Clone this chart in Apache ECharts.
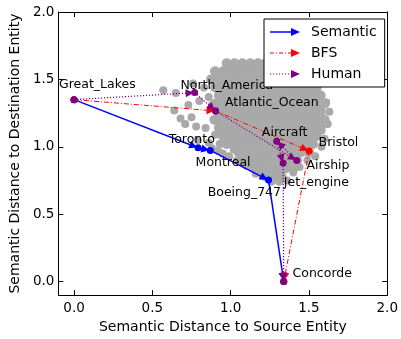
<!DOCTYPE html>
<html>
<head>
<meta charset="utf-8">
<script src="https://cdn.jsdelivr.net/npm/echarts@6/dist/echarts.min.js"></script>
<style>
  html, body { margin: 0; padding: 0; background: #fff; }
  #main { width: 401px; height: 339px; }
</style>
</head>
<body>
<div id="main"></div>
<script>
// entities (node positions)
var entityNames = ['Great_Lakes', 'North_America', 'Atlantic_Ocean', 'Toronto', 'Montreal', 'Aircraft',
                   'Bristol', 'Airship', 'Jet_engine', 'Boeing_747', 'Concorde'];
var entityX = [0.00, 0.770, 0.904, 0.792, 0.870, 1.294, 1.501, 1.422, 1.335, 1.242, 1.339];
var entityY = [1.35, 1.402, 1.266, 0.993, 0.973, 1.042, 0.969, 0.898, 0.879, 0.753, 0.000];
// where each name is written (left / middle of the text)
var labelX = [-0.096, 0.679, 0.963, 0.604, 0.776, 1.199, 1.561, 1.484, 1.339, 0.853, 1.395];
var labelY = [1.460, 1.453, 1.324, 1.050, 0.882, 1.101, 1.028, 0.860, 0.732, 0.662, 0.057];

// paths
var semanticPath = ['Great_Lakes', 'Toronto', 'Montreal', 'Boeing_747', 'Concorde'];
var bfsPath = ['Great_Lakes', 'Atlantic_Ocean', 'Bristol', 'Concorde'];
var humanPath = ['Great_Lakes', 'North_America', 'Atlantic_Ocean', 'Airship', 'Aircraft', 'Jet_engine', 'Concorde'];

// background cloud of entities, one row per y value (dense core)
var cloudRows = [
  [1.62, [0.975, 1.025, 1.075, 1.125, 1.175, 1.225, 1.275]],
  [1.56, [0.90, 0.95, 1.00, 1.05, 1.10, 1.15, 1.20, 1.25, 1.30, 1.35, 1.40]],
  [1.50, [0.875, 0.925, 0.975, 1.025, 1.075, 1.125, 1.175, 1.225, 1.275, 1.325, 1.375, 1.425, 1.475]],
  [1.44, [0.90, 0.95, 1.00, 1.05, 1.10, 1.15, 1.20, 1.25, 1.30, 1.35, 1.40, 1.45, 1.50, 1.55]],
  [1.38, [0.925, 0.975, 1.025, 1.075, 1.125, 1.175, 1.225, 1.275, 1.325, 1.375, 1.425, 1.475, 1.525, 1.575]],
  [1.32, [0.90, 0.95, 1.00, 1.05, 1.10, 1.15, 1.20, 1.25, 1.30, 1.35, 1.40, 1.45, 1.50, 1.55, 1.60]],
  [1.26, [0.925, 0.975, 1.025, 1.075, 1.125, 1.175, 1.225, 1.275, 1.325, 1.375, 1.425, 1.475, 1.525, 1.575]],
  [1.20, [0.90, 0.95, 1.00, 1.05, 1.10, 1.15, 1.20, 1.25, 1.30, 1.35, 1.40, 1.45, 1.50, 1.55, 1.60]],
  [1.14, [0.925, 0.975, 1.025, 1.075, 1.125, 1.175, 1.225, 1.275, 1.325, 1.375, 1.425, 1.475, 1.525, 1.575]],
  [1.08, [0.95, 1.00, 1.05, 1.10, 1.15, 1.20, 1.25, 1.30, 1.35, 1.40, 1.45, 1.50, 1.55]],
  [1.02, [0.975, 1.025, 1.075, 1.125, 1.175, 1.225, 1.275, 1.325, 1.375, 1.425, 1.475, 1.525]],
  [0.96, [1.05, 1.10, 1.15, 1.20, 1.25, 1.30, 1.35, 1.40, 1.45, 1.50]],
  [0.90, [1.075, 1.125, 1.175, 1.225, 1.275, 1.325, 1.375, 1.425]],
  [0.84, [1.15, 1.20, 1.25, 1.30, 1.35, 1.40]],
  [0.78, [1.225, 1.275, 1.325]]
];
// scattered entities round the edge of the cloud
var cloudSparse = [[0.57, 1.42], [0.65, 1.40], [0.64, 1.27], [0.73, 1.31], [0.80, 1.34], [0.68, 1.21],
  [0.75, 1.22], [0.78, 1.15], [0.84, 1.14], [0.71, 1.17], [0.76, 1.47], [0.79, 1.05],
  [0.86, 1.03], [0.88, 0.99], [0.92, 0.97], [0.95, 0.95], [0.83, 1.44], [0.86, 1.37],
  [0.88, 1.31], [0.89, 1.20], [0.90, 1.09], [0.93, 1.02], [0.99, 0.93], [1.04, 0.90],
  [1.10, 0.86], [1.16, 0.80], [1.40, 0.81], [1.44, 0.85], [1.49, 0.90], [1.54, 0.93],
  [1.58, 1.00], [1.60, 1.06], [1.62, 1.17], [1.63, 1.26], [1.61, 1.33], [1.26, 0.74],
  [1.31, 0.74], [1.36, 0.75], [0.95, 1.56], [0.94, 1.50], [1.55, 1.47], [1.02, 0.98],
  [1.58, 1.12], [1.20, 0.79]];

var ticks = [0, 0.5, 1.0, 1.5, 2.0];

var font = 'DejaVu Sans';
var colors = { Semantic: '#0000ff', BFS: '#ff0000', Human: '#800080' };

function pos(name) {
  var i = entityNames.indexOf(name);
  return [entityX[i], entityY[i]];
}

var cloud = [];
cloudRows.forEach(function (r) {
  r[1].forEach(function (x) { cloud.push([x, r[0]]); });
});

var labelData = entityNames.map(function (n, i) { return { name: n, value: [labelX[i], labelY[i]] }; });

// legend icons: line sample + arrow head, box 36 x 14
var box = 'M0,0h0.01v0.01h-0.01z M36,14h-0.01v-0.01h0.01z ';
var head = ' M21,3L30,7L21,11z';
var iconSemantic = 'path://' + box + 'M0,6.25h22v1.5h-22z' + head;
var iconBfs = 'path://' + box + 'M0,6.5h4v1h-4z M6,6.5h1v1h-1z M9,6.5h4v1h-4z M15,6.5h1v1h-1z M18,6.5h4v1h-4z' + head;
var iconHuman = 'path://' + box + 'M0,6.5h1.2v1h-1.2z M3,6.5h1.2v1h-1.2z M6,6.5h1.2v1h-1.2z M9,6.5h1.2v1h-1.2z M12,6.5h1.2v1h-1.2z M15,6.5h1.2v1h-1.2z M18,6.5h1.2v1h-1.2z' + head;

function axisX(pos, showLabel) {
  return {
    type: 'value', min: -0.1, max: 2.0, position: pos,
    axisLine: { show: true, onZero: false, lineStyle: { color: '#000', width: 1 } },
    axisTick: { show: true, inside: true, length: 5, customValues: ticks, lineStyle: { color: '#000' } },
    axisLabel: { show: showLabel, customValues: ticks, margin: 6, color: '#000', fontSize: 13.5, fontFamily: font,
      formatter: function (v) { return v.toFixed(1); } },
    splitLine: { show: false }
  };
}
function axisY(pos, showLabel) {
  var a = axisX(pos, showLabel);
  a.axisLabel.margin = 4;
  return a;
}

var xBottom = axisX('bottom', true);
xBottom.name = 'Semantic Distance to Source Entity';
xBottom.nameLocation = 'middle';
xBottom.nameGap = 23;
xBottom.nameTextStyle = { color: '#000', fontSize: 14, fontFamily: font };
var yLeft = axisY('left', true);
yLeft.name = 'Semantic Distance to Destination Entity';
yLeft.nameLocation = 'middle';
yLeft.nameRotate = 90;
yLeft.nameGap = 27;
yLeft.nameTextStyle = { color: '#000', fontSize: 14, fontFamily: font };

function pathSeries(name, path, lineType, width, z) {
  return [
    {
      id: name + '-arrows', name: name, type: 'lines', coordinateSystem: 'cartesian2d',
      symbol: ['none', 'triangle'], symbolSize: 8, z: z, silent: true,
      lineStyle: { color: colors[name], width: width, type: lineType, opacity: 1, curveness: 0 },
      data: []
    },
    {
      id: name + '-nodes', name: name, type: 'scatter', symbol: 'circle', symbolSize: 7, z: z, silent: true,
      itemStyle: { color: colors[name], borderWidth: 0, opacity: 1 },
      data: path.map(pos)
    }
  ];
}

var chart = echarts.init(document.getElementById('main'), null, { renderer: 'canvas' });
var option = {
  animation: false,
  grid: { left: 56, right: 8, top: 12, bottom: 40, containLabel: false },
  xAxis: [xBottom, axisX('top', false)],
  yAxis: [yLeft, axisY('right', false)],
  legend: {
    orient: 'vertical', left: 264, top: 19, z: 20,
    padding: [6, 8, 6, 6], itemGap: 7, itemWidth: 36, itemHeight: 14,
    backgroundColor: '#fff', borderColor: '#000', borderWidth: 1, borderRadius: 0,
    textStyle: { color: '#000', fontSize: 14, fontFamily: font },
    selectedMode: false,
    data: [
      { name: 'Semantic', icon: iconSemantic, itemStyle: { color: colors.Semantic, borderWidth: 0 } },
      { name: 'BFS', icon: iconBfs, itemStyle: { color: colors.BFS, borderWidth: 0 } },
      { name: 'Human', icon: iconHuman, itemStyle: { color: colors.Human, borderWidth: 0 } }
    ]
  },
  series: [
    {
      id: 'cloud', type: 'scatter', symbolSize: 10, z: 1, silent: true,
      itemStyle: { color: '#a9a9a9', borderWidth: 0, opacity: 1 },
      data: cloud
    },
    {
      id: 'cloud-edge', type: 'scatter', symbolSize: 8, z: 1, silent: true,
      itemStyle: { color: '#a9a9a9', borderWidth: 0, opacity: 1 },
      data: cloudSparse
    }
  ].concat(
    pathSeries('Semantic', semanticPath, 'solid', 1.5, 2),
    pathSeries('BFS', bfsPath, [5, 2, 1, 2], 1, 2),
    pathSeries('Human', humanPath, [1.2, 1.8], 1.2, 2),
    [{
      id: 'labels', type: 'scatter', symbol: 'circle', symbolSize: 0.1, z: 3, silent: true,
      itemStyle: { color: '#000', opacity: 1 },
      label: { show: true, position: 'right', distance: 0, color: '#000', opacity: 1, fontSize: 12.5,
        fontFamily: font, textBorderWidth: 0, formatter: function (p) { return p.name; } },
      labelLayout: { hideOverlap: false },
      emphasis: { disabled: true },
      data: labelData
    }]
  )
};
chart.setOption(option);

// arrow heads stop a few pixels short of the target node, like the original
function arrowSegments(path, shrinkPx) {
  var segs = [];
  for (var i = 0; i < path.length - 1; i++) {
    var a = chart.convertToPixel({ gridIndex: 0 }, pos(path[i]));
    var b = chart.convertToPixel({ gridIndex: 0 }, pos(path[i + 1]));
    var dx = b[0] - a[0], dy = b[1] - a[1];
    var len = Math.sqrt(dx * dx + dy * dy);
    var end = [b[0] - dx / len * shrinkPx, b[1] - dy / len * shrinkPx];
    segs.push({ coords: [pos(path[i]), chart.convertFromPixel({ gridIndex: 0 }, end)] });
  }
  return segs;
}
chart.setOption({
  series: [
    { id: 'Semantic-arrows', data: arrowSegments(semanticPath, 5) },
    { id: 'BFS-arrows', data: arrowSegments(bfsPath, 5) },
    { id: 'Human-arrows', data: arrowSegments(humanPath, 5) }
  ]
});
</script>
</body>
</html>
